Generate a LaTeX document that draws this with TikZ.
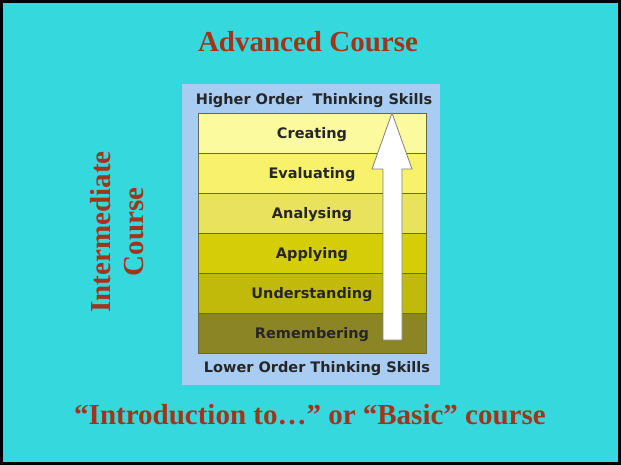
\documentclass[tikz,border=0pt]{standalone}
\usepackage{fontspec}
\usepackage{xcolor}
\setmainfont{Liberation Serif}
\newfontfamily\skillfont{DejaVu Sans}

\definecolor{bgC}{HTML}{35D9DD}
\definecolor{titleC}{HTML}{A3341C}
\definecolor{boxC}{HTML}{A9CCF2}
\definecolor{creC}{HTML}{FCFA9E}
\definecolor{evaC}{HTML}{F8F16C}
\definecolor{anaC}{HTML}{E9E25C}
\definecolor{appC}{HTML}{D5CD08}
\definecolor{undC}{HTML}{C2BA0A}
\definecolor{remC}{HTML}{8C8526}
\definecolor{lineC}{HTML}{6B6840}

\begin{document}
\begin{tikzpicture}[x=1pt,y=-1pt,
  course/.style={text=titleC,font=\fontsize{29}{33}\selectfont\bfseries},
  band/.style={draw=lineC,line width=0.6pt,minimum width=228pt,minimum height=40pt,inner sep=0pt,
    text height=10.5pt,text depth=0pt,
    font=\skillfont\fontsize{14.5}{16}\selectfont\bfseries,text=black!85},
  skills/.style={font=\skillfont\fontsize{14.5}{16}\selectfont\bfseries,text=black!85}]

\useasboundingbox (0,0) rectangle (621,465);
\fill[black] (0,0) rectangle (621,465);
\fill[bgC] (3,3) rectangle (618,462);

% picture
\fill[boxC] (182,84) rectangle (440,385);

\node(cre) at (312,133)[band,fill=creC] {Creating};
\node(eva) at (312,173)[band,fill=evaC] {Evaluating};
\node(ana) at (312,213)[band,fill=anaC] {Analysing};
\node(app) at (312,253)[band,fill=appC] {Applying};
\node(und) at (312,293)[band,fill=undC] {Understanding};
\node(rem) at (312,333)[band,fill=remC] {Remembering};

\node(hi) at (314,101)[skills] {Higher Order\ \ Thinking Skills};
\node(lo) at (317,369)[skills] {Lower Order Thinking Skills};

\draw[gray,fill=white,line width=0.8pt] (383,340) -- (383,169) -- (372,169) -- (392,113)
  -- (412,169) -- (402,169) -- (402,340) -- cycle;

% courses
\node(adv) at (308,42)[course] {Advanced Course};
\node(mid) at (117,232)[course,rotate=90,align=center] {Intermediate\\Course};
\node(bas) at (310,415)[course] {``Introduction to\ldots'' or ``Basic'' course};

\end{tikzpicture}
\end{document}
